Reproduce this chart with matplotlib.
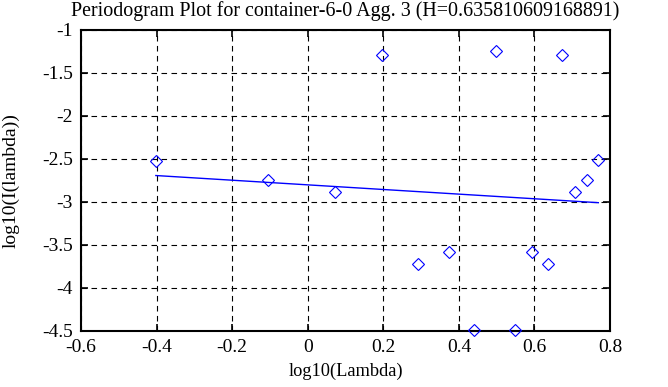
"""Periodogram plot for container-6-0, aggregation level 3."""

import matplotlib
matplotlib.use('Agg')
from matplotlib import pyplot as plt

# log10 frequency and log10 periodogram values
log_lambda = [-0.402, -0.104, 0.072, 0.197, 0.293, 0.373, 0.440, 0.497,
              0.548, 0.594, 0.635, 0.673, 0.708, 0.739, 0.769]
log_periodogram = [-2.52, -2.744, -2.884, -1.287, -3.729, -3.585, -4.488,
                   -1.24, -4.488, -3.589, -3.729, -1.287, -2.884, -2.744,
                   -2.515]

# Least squares fit line endpoints
fit_x = [-0.402, 0.769]
fit_y = [-2.694, -3.01]

x_ticks = [-0.6, -0.4, -0.2, 0, 0.2, 0.4, 0.6, 0.8]
x_tick_labels = ['-0.6', '-0.4', '-0.2', '0', '0.2', '0.4', '0.6', '0.8']
y_ticks = [-4.5, -4, -3.5, -3, -2.5, -2, -1.5, -1]
y_tick_labels = ['-4.5', '-4', '-3.5', '-3', '-2.5', '-2', '-1.5', '-1']

title = 'Periodogram Plot for container-6-0 Agg. 3 (H=0.635810609168891)'


def main():
    plt.rcParams['font.family'] = ['Liberation Serif', 'DejaVu Serif']

    fig = plt.figure(figsize=(6.68, 3.87), dpi=100)
    ax = fig.add_axes([0.1213, 0.1455, 0.7919, 0.777])

    ax.plot(log_lambda, log_periodogram, linestyle='none', marker='D',
            markersize=6.5, markerfacecolor='none', markeredgecolor='blue',
            markeredgewidth=0.8, clip_on=False, zorder=3)
    ax.plot(fit_x, fit_y, color='blue', linewidth=1.0, zorder=2)

    ax.set_xlim(-0.6, 0.8)
    ax.set_ylim(-4.5, -1)
    ax.set_xticks(x_ticks)
    ax.set_xticklabels(x_tick_labels)
    ax.set_yticks(y_ticks)
    ax.set_yticklabels(y_tick_labels)

    ax.grid(True, color='black', linestyle=(0, (5, 4)), linewidth=0.8)
    ax.tick_params(direction='in', length=5, width=1.2, top=True,
                   right=True, labelsize=14)
    ax.tick_params(axis='x', pad=6)
    ax.tick_params(axis='y', pad=6)
    for spine in ax.spines.values():
        spine.set_linewidth(1.5)

    ax.set_title(title, fontsize=14.4, pad=10)
    ax.set_xlabel('log10(Lambda)', fontsize=13.2, labelpad=5)
    ax.set_ylabel('log10(I(lambda))', fontsize=14, labelpad=16)

    fig.savefig('out.png', dpi=100)


if __name__ == "__main__":
    main()
